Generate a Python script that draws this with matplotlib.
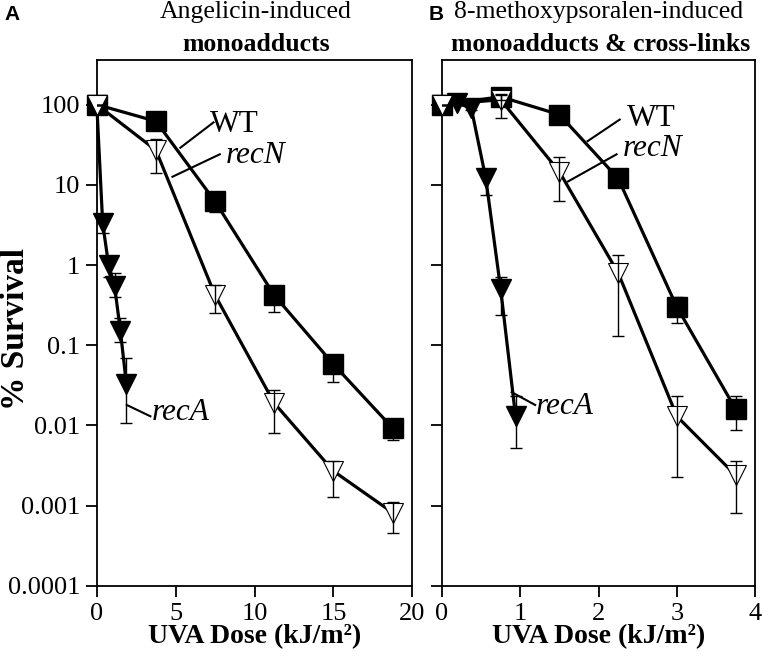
import numpy as np
import matplotlib
matplotlib.use("Agg")
import matplotlib.pyplot as plt

plt.rcParams["font.family"] = ["Liberation Serif", "DejaVu Serif"]

# Panel A: angelicin (dose kJ/m2, % survival, error bar low/high)
a_wt_dose = [0, 3.75, 7.5, 11.25, 15.0, 18.75]
a_wt_surv = [100, 62, 6.2, 0.42, 0.058, 0.0093]
a_wt_lo = [100, 58, 4.6, 0.26, 0.035, 0.0066]
a_wt_hi = [100, 66, 7.0, 0.50, 0.070, 0.011]

a_recN_dose = [0, 3.75, 7.5, 11.25, 15.0, 18.75]
a_recN_surv = [100, 27, 0.42, 0.019, 0.0027, 0.00082]
a_recN_lo = [100, 14, 0.25, 0.0081, 0.0013, 0.00046]
a_recN_hi = [100, 37, 0.57, 0.028, 0.0036, 0.0011]

a_recA_dose = [0, 0.375, 0.75, 1.125, 1.5, 1.875]
a_recA_surv = [100, 3.3, 1.0, 0.55, 0.15, 0.033]
a_recA_lo = [100, 2.5, 0.7, 0.40, 0.11, 0.0107]
a_recA_hi = [100, 4.0, 1.2, 0.80, 0.22, 0.07]

# Panel B: 8-methoxypsoralen
b_wt_dose = [0, 0.75, 1.5, 2.25, 3.0, 3.75]
b_wt_surv = [100, 125, 75, 12, 0.30, 0.016]
b_wt_lo = [100, 115, 70, 9.5, 0.19, 0.0088]
b_wt_hi = [100, 135, 85, 15, 0.40, 0.023]

b_recN_dose = [0, 0.75, 1.5, 2.25, 3.0, 3.75]
b_recN_surv = [100, 115, 14.5, 0.8, 0.013, 0.0024]
b_recN_lo = [100, 69, 6.2, 0.13, 0.0023, 0.00081]
b_recN_hi = [100, 130, 22, 1.35, 0.023, 0.0036]

b_recA_dose = [0, 0.19, 0.375, 0.56, 0.75, 0.94]
b_recA_surv = [100, 105, 90, 12, 0.5, 0.013]
b_recA_lo = [100, 100, 85, 7.5, 0.24, 0.0052]
b_recA_hi = [100, 110, 95, 15, 0.71, 0.023]

y_ticks = [0.0001, 0.001, 0.01, 0.1, 1, 10, 100]
y_ticklabels = ["0.0001", "0.001", "0.01", "0.1", "1", "10", "100"]

fig = plt.figure(figsize=(7.62, 6.59), dpi=100)
axA = fig.add_axes([0.127, 0.111, 0.414, 0.798])
axB = fig.add_axes([0.580, 0.111, 0.411, 0.798])


def draw_series(ax, x, y, lo, hi, style, z):
    x = np.asarray(x)
    y = np.asarray(y)
    ax.plot(x, y, color="black", lw=2.3, zorder=2, clip_on=False)
    if style == "square":
        ax.plot(x, y, ls="none", marker="s", ms=14, mfc="black", mec="black",
                zorder=z, clip_on=False)
    elif style == "open":
        ax.plot(x, y, ls="none", marker="v", ms=15, mfc="white", mec="black",
                mew=0.8, zorder=z, clip_on=False)
    else:
        ax.plot(x, y, ls="none", marker="v", ms=15, mfc="black", mec="black",
                zorder=z, clip_on=False)
    yerr = [y - np.asarray(lo), np.asarray(hi) - y]
    ax.errorbar(x, y, yerr=yerr, fmt="none", ecolor="black", elinewidth=1.0,
                capsize=4, capthick=1.0, zorder=6)


draw_series(axA, a_recA_dose, a_recA_surv, a_recA_lo, a_recA_hi, "filled", 3)
draw_series(axA, a_wt_dose, a_wt_surv, a_wt_lo, a_wt_hi, "square", 4)
draw_series(axA, a_recN_dose, a_recN_surv, a_recN_lo, a_recN_hi, "open", 5)

draw_series(axB, b_recA_dose, b_recA_surv, b_recA_lo, b_recA_hi, "filled", 3)
draw_series(axB, b_wt_dose, b_wt_surv, b_wt_lo, b_wt_hi, "square", 4)
draw_series(axB, b_recN_dose, b_recN_surv, b_recN_lo, b_recN_hi, "open", 5)

for ax, xmax, xticks in [(axA, 20, [0, 5, 10, 15, 20]), (axB, 4, [0, 1, 2, 3, 4])]:
    ax.set_yscale("log")
    ax.set_ylim(1e-4, 360)
    ax.set_xlim(0, xmax)
    ax.set_xticks(xticks)
    ax.set_yticks(y_ticks)
    ax.minorticks_off()
    ax.tick_params(direction="out", length=8, width=1.3, labelsize=19, pad=4)
    for sp in ax.spines.values():
        sp.set_linewidth(1.3)
    ax.set_xlabel("UVA Dose (kJ/m²)", fontsize=20, fontweight="bold", labelpad=0)

axA.set_yticklabels(y_ticklabels)
axB.set_yticklabels([])
fig.text(0.02, 0.50, "% Survival", rotation=90, ha="center", va="center",
         fontsize=24, fontweight="bold")

# curve labels with leader lines
def tag(ax, text, xt, yt, x0, y0, x1, y1, italic):
    ax.plot([x0, x1], [y0, y1], color="black", lw=1.5, zorder=7)
    ax.text(xt, yt, text, fontsize=22.5, style="italic" if italic else "normal",
            ha="left", va="center", zorder=8)

tag(axA, "WT", 7.2, 56, 7.4, 60, 5.3, 29, False)
tag(axA, "recN", 8.2, 23, 7.8, 24, 4.8, 12.6, True)
tag(axA, "recA", 3.5, 0.0145, 1.9, 0.018, 3.4, 0.013, True)

tag(axB, "WT", 2.36, 68, 2.27, 65, 1.86, 35, False)
tag(axB, "recN", 2.31, 28, 2.23, 24, 1.61, 11, True)
tag(axB, "recA", 1.2, 0.017, 0.89, 0.026, 1.19, 0.018, True)

# panel titles
fig.text(0.336, 0.972, "Angelicin-induced", ha="center", va="baseline", fontsize=18.5)
fig.text(0.336, 0.922, "monoadducts", ha="center", va="baseline", fontsize=18.5,
         fontweight="bold")
fig.text(0.785, 0.972, "8-methoxypsoralen-induced", ha="center", va="baseline",
         fontsize=18.5)
fig.text(0.788, 0.922, "monoadducts & cross-links", ha="center", va="baseline",
         fontsize=18.5, fontweight="bold")
fig.text(0.006, 0.969, "A", ha="left", va="baseline", fontsize=15,
         fontweight="bold", family="Liberation Sans")
fig.text(0.563, 0.969, "B", ha="left", va="baseline", fontsize=15,
         fontweight="bold", family="Liberation Sans")

fig.savefig("out.png", dpi=100)
